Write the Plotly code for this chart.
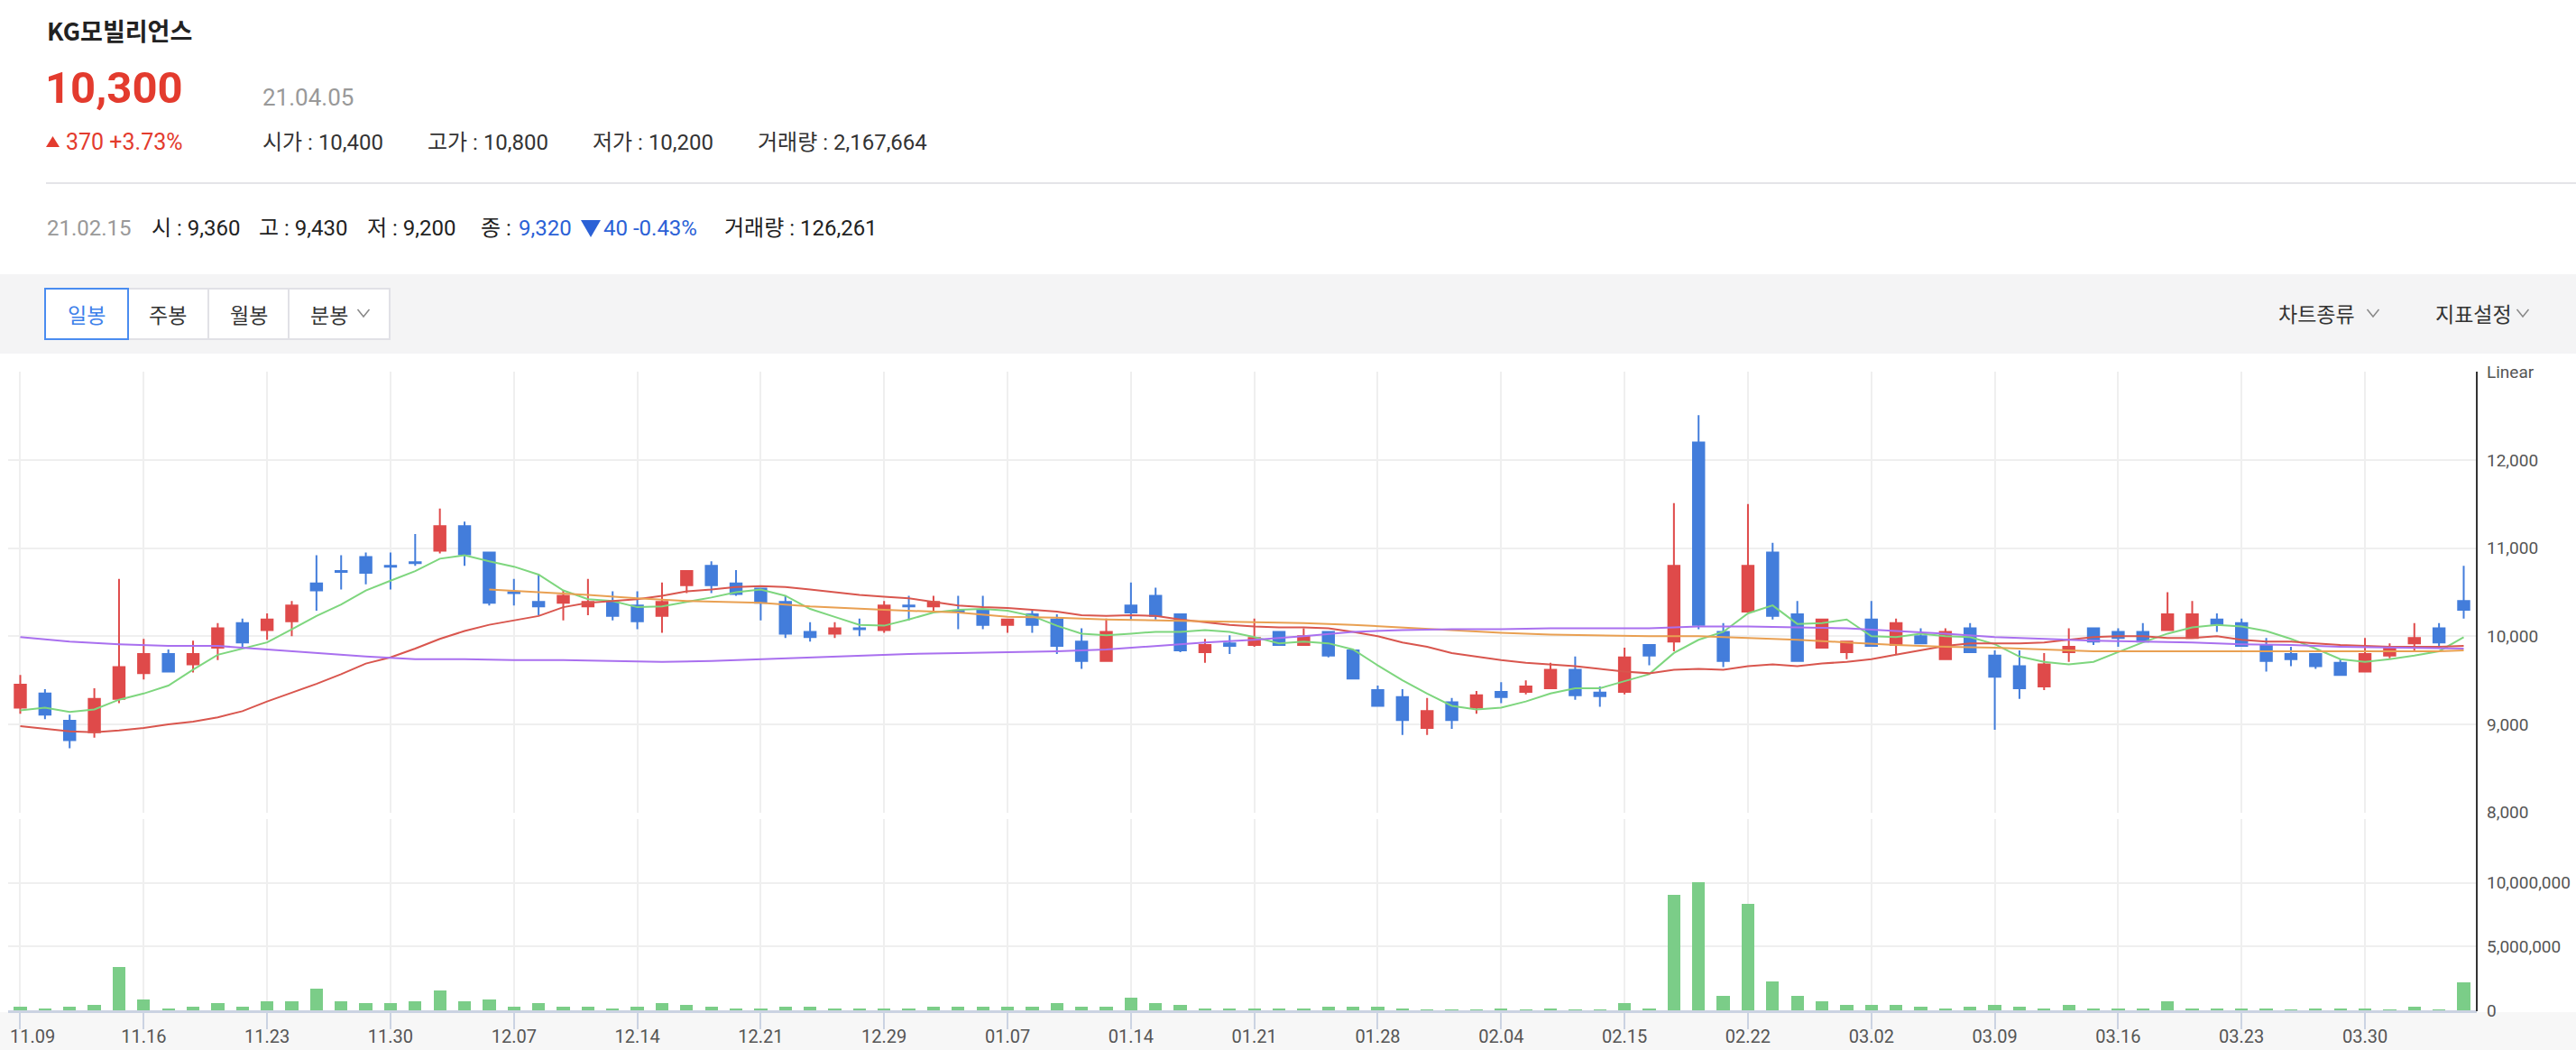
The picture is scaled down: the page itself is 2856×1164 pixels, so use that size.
import plotly.graph_objects as go

W, H = 2856, 1164

# ---------------- data ----------------
dates = [
    "11.09", "11.10", "11.11", "11.12", "11.13", "11.16", "11.17", "11.18", "11.19", "11.20",
    "11.23", "11.24", "11.25", "11.26", "11.27", "11.30", "12.01", "12.02", "12.03", "12.04",
    "12.07", "12.08", "12.09", "12.10", "12.11", "12.14", "12.15", "12.16", "12.17", "12.18",
    "12.21", "12.22", "12.23", "12.24", "12.28", "12.29", "12.30", "01.04", "01.05", "01.06",
    "01.07", "01.08", "01.11", "01.12", "01.13", "01.14", "01.15", "01.18", "01.19", "01.20",
    "01.21", "01.22", "01.25", "01.26", "01.27", "01.28", "01.29", "02.01", "02.02", "02.03",
    "02.04", "02.05", "02.08", "02.09", "02.10", "02.15", "02.16", "02.17", "02.18", "02.19",
    "02.22", "02.23", "02.24", "02.25", "02.26", "03.02", "03.03", "03.04", "03.05", "03.08",
    "03.09", "03.10", "03.11", "03.12", "03.15", "03.16", "03.17", "03.18", "03.19", "03.22",
    "03.23", "03.24", "03.25", "03.26", "03.29", "03.30", "03.31", "04.01", "04.02", "04.05",
]

tick_labels = ["11.09", "11.16", "11.23", "11.30", "12.07", "12.14", "12.21", "12.29", "01.07", "01.14",
               "01.21", "01.28", "02.04", "02.15", "02.22", "03.02", "03.09", "03.16", "03.23", "03.30"]

open_ = [9190, 9350, 9040, 8910, 9290, 9580, 9800, 9680, 9870, 10150,
         10070, 10170, 10600, 10740, 10900, 10800, 10840, 10970, 11250, 10950,
         10500, 10390, 10380, 10340, 10390, 10350, 10230, 10580, 10800, 10600,
         10540, 10390, 10050, 10030, 10090, 10070, 10350, 10340, 10290, 10290,
         10130, 10250, 10190, 9940, 9720, 10350, 10460, 10250, 9820, 9920,
         9900, 10050, 9900, 10050, 9840, 9390, 9310, 8960, 9250, 9190,
         9370, 9370, 9410, 9620, 9360, 9370, 9900, 9940, 12200, 10050,
         10280, 10950, 10250, 9870, 9820, 10190, 9900, 10000, 9740, 10090,
         9780, 9660, 9430, 9820, 10090, 10050, 10050, 10070, 9980, 10190,
         10150, 9900, 9800, 9800, 9700, 9600, 9780, 9920, 10090, 10400]
high = [9560, 9400, 9110, 9410, 10650, 9970, 9850, 9950, 10150, 10200,
        10260, 10400, 10920, 10920, 10950, 10950, 11160, 11450, 11300, 10950,
        10650, 10710, 10520, 10650, 10510, 10510, 10610, 10740, 10850, 10750,
        10540, 10460, 10160, 10160, 10200, 10400, 10460, 10460, 10460, 10460,
        10190, 10290, 10250, 10090, 10200, 10610, 10550, 10250, 9970, 10010,
        10200, 10050, 10090, 10050, 9840, 9440, 9400, 9300, 9300, 9380,
        9480, 9500, 9700, 9770, 9430, 9870, 9900, 11510, 12510, 10150,
        11500, 11060, 10400, 10190, 9940, 10400, 10200, 10090, 10090, 10150,
        9840, 9840, 9810, 10090, 10090, 10090, 10150, 10500, 10400, 10260,
        10200, 9980, 9880, 9800, 9740, 9980, 9920, 10150, 10150, 10800]
low = [9120, 9060, 8730, 8850, 9240, 9510, 9590, 9590, 9730, 9880,
       9960, 10000, 10290, 10530, 10590, 10530, 10800, 10940, 10800, 10350,
       10350, 10240, 10180, 10240, 10180, 10080, 10040, 10490, 10490, 10460,
       10180, 9980, 9940, 9980, 10000, 10040, 10180, 10290, 10080, 10080,
       10040, 10040, 9800, 9630, 9720, 10190, 10190, 9820, 9700, 9800,
       9880, 9890, 9900, 9760, 9520, 9210, 8880, 8880, 8950, 9120,
       9240, 9340, 9410, 9280, 9200, 9340, 9670, 9830, 10080, 9650,
       10280, 10190, 9720, 9870, 9740, 9890, 9800, 9920, 9740, 9820,
       8940, 9290, 9390, 9710, 9900, 9880, 9940, 10070, 9980, 10050,
       9890, 9600, 9660, 9630, 9560, 9600, 9750, 9840, 9880, 10200]
close = [9450, 9110, 8820, 9290, 9650, 9800, 9600, 9800, 10090, 9930,
         10190, 10350, 10520, 10730, 10720, 10790, 10830, 11250, 10930, 10380,
         10490, 10340, 10460, 10390, 10230, 10170, 10390, 10740, 10580, 10480,
         10380, 10030, 9990, 10090, 10080, 10350, 10340, 10390, 10280, 10130,
         10190, 10130, 9890, 9720, 10050, 10270, 10230, 9840, 9900, 9890,
         9980, 9900, 10000, 9780, 9520, 9210, 9050, 9150, 9050, 9330,
         9310, 9430, 9620, 9330, 9320, 9760, 9780, 10800, 10130, 9720,
         10800, 10230, 9720, 10190, 9940, 9890, 10150, 9920, 10050, 9820,
         9540, 9410, 9680, 9880, 9940, 9980, 9940, 10250, 10250, 10140,
         9890, 9720, 9740, 9660, 9560, 9800, 9880, 9980, 9930, 10300]

volume = [280000, 140000, 280000, 420000, 3400000, 850000, 140000, 280000, 570000, 280000,
          710000, 710000, 1700000, 710000, 570000, 570000, 710000, 1560000, 710000, 850000,
          280000, 570000, 280000, 280000, 140000, 280000, 570000, 420000, 280000, 140000,
          140000, 280000, 280000, 140000, 140000, 140000, 140000, 280000, 280000, 280000,
          280000, 280000, 570000, 280000, 280000, 990000, 570000, 420000, 140000, 140000,
          140000, 140000, 140000, 280000, 280000, 280000, 140000, 30000, 30000, 30000,
          140000, 30000, 140000, 30000, 40000, 570000, 140000, 9060000, 10050000, 1130000,
          8350000, 2270000, 1130000, 710000, 420000, 420000, 420000, 280000, 140000, 280000,
          420000, 280000, 140000, 420000, 140000, 140000, 140000, 710000, 140000, 140000,
          140000, 140000, 30000, 140000, 140000, 140000, 30000, 280000, 30000, 2167664]

# moving averages
ma5 = [9160, 9190, 9140, 9170, 9280, 9350, 9440, 9620, 9790, 9860,
       9930, 10080, 10230, 10360, 10520, 10630, 10740, 10880, 10920, 10850,
       10790, 10700, 10520, 10420, 10400, 10330, 10340, 10390, 10440, 10500,
       10530, 10460, 10310, 10220, 10130, 10120, 10190, 10270, 10300, 10310,
       10290, 10230, 10120, 10030, 10010, 10030, 10050, 10050, 10070, 10050,
       9990, 9920, 9940, 9920, 9850, 9670, 9500, 9350, 9210, 9170,
       9190, 9260, 9350, 9410, 9410, 9490, 9570, 9810, 9960, 10050,
       10260, 10350, 10140, 10150, 10190, 10000, 9990, 10030, 10000, 9990,
       9910, 9770, 9710, 9680, 9710, 9820, 9930, 10030, 10100, 10130,
       10110, 10060, 9970, 9860, 9740, 9710, 9740, 9780, 9830, 9990]

ma20 = [8980, 8950, 8920, 8910, 8930, 8960, 9000, 9030, 9080, 9150,
        9260, 9360, 9460, 9570, 9690, 9760, 9860, 9970, 10060, 10130,
        10180, 10230, 10330, 10380, 10400, 10420, 10460, 10510, 10530, 10560,
        10570, 10560, 10530, 10500, 10470, 10450, 10430, 10390, 10350, 10330,
        10320, 10300, 10280, 10240, 10230, 10240, 10230, 10190, 10160, 10130,
        10110, 10100, 10100, 10090, 10050, 10000, 9930, 9880, 9810, 9770,
        9730, 9700, 9680, 9660, 9630, 9600, 9580, 9620, 9630, 9620,
        9660, 9680, 9660, 9690, 9710, 9740, 9790, 9840, 9890, 9920,
        9920, 9920, 9930, 9960, 9990, 10000, 10000, 9980, 9980, 10000,
        9960, 9940, 9940, 9920, 9900, 9890, 9880, 9880, 9880, 9890]

ma60_idx = [19, 21, 23, 25, 27, 30, 32, 35, 38, 40, 42, 44, 46, 48, 49, 52, 54, 56, 58, 60,
            62, 64, 66, 68, 70, 72, 74, 76, 78, 80, 82, 84, 86, 88, 90, 92, 94, 96, 98, 99]
ma60 = [10530, 10500, 10470, 10430, 10400, 10380, 10340, 10300, 10270, 10220,
        10210, 10190, 10180, 10170, 10160, 10150, 10130, 10100, 10070, 10040,
        10020, 10010, 10000, 10000, 9980, 9960, 9930, 9900, 9880, 9870,
        9850, 9830, 9830, 9830, 9830, 9830, 9830, 9830, 9830, 9840]

ma120_idx = [0, 2, 4, 6, 8, 10, 12, 14, 16, 18, 20, 22, 24, 26, 28, 30, 32, 34, 36, 38,
             40, 42, 44, 46, 48, 50, 52, 54, 56, 58, 60, 62, 64, 66, 68, 70, 72, 74, 76, 78,
             80, 82, 84, 86, 88, 90, 92, 94, 96, 98, 99]
ma120 = [9990, 9940, 9910, 9890, 9890, 9850, 9810, 9770, 9740, 9740,
         9730, 9730, 9720, 9710, 9720, 9740, 9760, 9780, 9800, 9810,
         9820, 9830, 9850, 9890, 9930, 9960, 10000, 10050, 10070, 10080,
         10080, 10090, 10090, 10090, 10110, 10110, 10100, 10090, 10060, 10030,
         9990, 9970, 9950, 9940, 9930, 9910, 9900, 9880, 9870, 9860, 9860]

price_ticks = [8000, 9000, 10000, 11000, 12000, 13000]
price_tick_text = ["8,000", "9,000", "10,000", "11,000", "12,000", "Linear"]
vol_ticks = [0, 5000000, 10000000, 15000000]
vol_tick_text = ["0", "5,000,000", "10,000,000", ""]

# ---------------- style ----------------
RED = "#df4a4a"
BLUE = "#437ddb"
VOL_GREEN = "#7bcd88"
C_MA5 = "#7ed67e"
C_MA20 = "#d9564e"
C_MA60 = "#e9a052"
C_MA120 = "#a970ef"
GRID = "#efefef"
TXT_RED = "#e33b2e"
TXT_BLUE = "#2b61d6"
FONT_KR = "Noto Sans CJK KR"
FONT_NUM = "Roboto, Noto Sans CJK KR"


def px(x):
    return x / W


def py(y):
    return 1 - y / H


fig = go.Figure()

fig.add_trace(go.Candlestick(
    x=dates, open=open_, high=high, low=low, close=close,
    increasing=dict(line=dict(color=RED, width=2), fillcolor=RED),
    decreasing=dict(line=dict(color=BLUE, width=2), fillcolor=BLUE),
    whiskerwidth=0, xaxis="x", yaxis="y", showlegend=False, hoverinfo="skip",
))

for xs, vals, col in [
    (dates, ma5, C_MA5),
    (dates, ma20, C_MA20),
    ([dates[i] for i in ma60_idx], ma60, C_MA60),
    ([dates[i] for i in ma120_idx], ma120, C_MA120),
]:
    fig.add_trace(go.Scatter(
        x=xs, y=vals, mode="lines",
        line=dict(color=col, width=2), xaxis="x", yaxis="y",
        showlegend=False, hoverinfo="skip",
    ))

fig.add_trace(go.Bar(
    x=dates, y=volume, marker=dict(color=VOL_GREEN, line=dict(width=0)),
    width=0.52, xaxis="x2", yaxis="y2", showlegend=False, hoverinfo="skip",
))

x_dom = [px(9), px(2746)]
x_rng = [-0.493, 99.53]
tickfont = dict(family=FONT_NUM, size=19, color="#555555")
# the first date label is drawn separately (kept inside the chart, as in the original)
x_tick_text = [""] + tick_labels[1:]

fig.update_layout(
    width=W, height=H, margin=dict(l=0, r=0, t=0, b=0, pad=0, autoexpand=False),
    paper_bgcolor="white", plot_bgcolor="white",
    showlegend=False, boxgap=0.35, bargap=0,
    xaxis=dict(
        domain=x_dom, anchor="y", type="category", range=x_rng, automargin=False,
        tickmode="array", tickvals=tick_labels, showticklabels=False,
        showgrid=True, gridcolor=GRID, gridwidth=1.5, zeroline=False,
        showline=False, ticks="", rangeslider=dict(visible=False),
    ),
    yaxis=dict(
        domain=[py(900.7), py(412.3)], anchor="x", range=[8000, 13000], automargin=False,
        side="right", tickmode="array", tickvals=price_ticks, ticktext=price_tick_text,
        showgrid=True, gridcolor=GRID, gridwidth=1.5, zeroline=False, showline=False,
        ticks="", ticklabelstandoff=10, tickfont=tickfont,
    ),
    xaxis2=dict(
        domain=x_dom, anchor="y2", type="category", matches="x", range=x_rng, automargin=False,
        tickmode="array", tickvals=tick_labels, ticktext=x_tick_text,
        showgrid=True, gridcolor=GRID, gridwidth=1.5, zeroline=False,
        showline=True, linecolor="#cbd3e2", linewidth=3,
        ticks="outside", ticklen=18, tickwidth=2, tickcolor="#cbd3e2",
        ticklabelstandoff=-9,
        tickfont=dict(family=FONT_NUM, size=20, color="#555555"),
        rangeslider=dict(visible=False),
    ),
    yaxis2=dict(
        domain=[py(1120), py(908)], anchor="x2", range=[0, 15000000], automargin=False,
        side="right", tickmode="array", tickvals=vol_ticks, ticktext=vol_tick_text,
        showgrid=True, gridcolor=GRID, gridwidth=1.5, zeroline=False, showline=False,
        ticks="", ticklabelstandoff=10, tickfont=tickfont,
    ),
)

shapes = []
# bottom soft band
shapes.append(dict(type="rect", xref="paper", yref="paper", x0=0, x1=1, y0=0, y1=py(1122),
                   fillcolor="rgba(0,0,0,0.03)", line=dict(width=0), layer="below"))
# right axis line
shapes.append(dict(type="line", xref="paper", yref="paper", x0=px(2746), x1=px(2746),
                   y0=py(412), y1=py(1121), line=dict(color="#333333", width=2)))
# separator line in header
shapes.append(dict(type="line", xref="paper", yref="paper", x0=px(51), x1=1,
                   y0=py(203), y1=py(203), line=dict(color="#e4e4e8", width=2)))
# toolbar band
shapes.append(dict(type="rect", xref="paper", yref="paper", x0=0, x1=1, y0=py(392), y1=py(304),
                   fillcolor="#f4f4f5", line=dict(width=0)))
# toolbar buttons
for x0, x1 in [(142, 231), (231, 320), (320, 432)]:
    shapes.append(dict(type="rect", xref="paper", yref="paper", x0=px(x0), x1=px(x1),
                       y0=py(376), y1=py(320), fillcolor="white",
                       line=dict(color="#e1e1e6", width=2)))
shapes.append(dict(type="rect", xref="paper", yref="paper", x0=px(50), x1=px(142),
                   y0=py(376), y1=py(320), fillcolor="white",
                   line=dict(color="#4a8cf0", width=2)))


def chevron(cx, cy, hw=6.5, hh=4):
    return dict(type="path", xref="paper", yref="paper",
                path=f"M {px(cx-hw)} {py(cy-hh)} L {px(cx)} {py(cy+hh)} L {px(cx+hw)} {py(cy-hh)}",
                line=dict(color="#888888", width=1.5))


shapes += [chevron(403, 347), chevron(2631, 347), chevron(2797, 347)]


def tri(x0, x1, ybase, ytip, color):
    return dict(type="path", xref="paper", yref="paper",
                path=f"M {px(x0)} {py(ybase)} L {px(x1)} {py(ybase)} L {px((x0+x1)/2)} {py(ytip)} Z",
                fillcolor=color, line=dict(width=0))


shapes.append(tri(51, 66, 163, 151, TXT_RED))
shapes.append(tri(644, 666, 244, 263, TXT_BLUE))
fig.update_layout(shapes=shapes)

ann = []


def A(text, x, y, size, color, family=FONT_NUM, weight="normal", xanchor="left"):
    ann.append(dict(text=text, x=px(x), y=py(y), xref="paper", yref="paper",
                    xanchor=xanchor, yanchor="middle", showarrow=False,
                    font=dict(family=family, size=size, color=color, weight=weight)))


A("KG모빌리언스", 50, 33, 27, "#222222", family=FONT_KR, weight="bold")
A("10,300", 48, 97, 49, TXT_RED, weight="bold")
A("21.04.05", 289, 108, 26, "#999999")
A("370 +3.73%", 71, 158, 25, TXT_RED)
A("시가 : 10,400", 289, 158, 24, "#333333")
A("고가 : 10,800", 472, 158, 24, "#333333")
A("저가 : 10,200", 655, 158, 24, "#333333")
A("거래량 : 2,167,664", 838, 158, 24, "#333333")

A("21.02.15", 50, 253, 24, "#999999")
A("시 : 9,360", 166, 253, 24, "#222222")
A("고 : 9,430", 285, 253, 24, "#222222")
A("저 : 9,200", 405, 253, 24, "#222222")
A("종 :", 531, 253, 24, "#222222")
A("9,320", 573, 253, 24, TXT_BLUE)
A("40 -0.43%", 667, 253, 24, TXT_BLUE)
A("거래량 : 126,261", 801, 253, 24, "#222222")

A("일봉", 96, 348, 23, "#3d80ea", family=FONT_KR, xanchor="center")
A("주봉", 186, 348, 23, "#333333", family=FONT_KR, xanchor="center")
A("월봉", 276, 348, 23, "#333333", family=FONT_KR, xanchor="center")
A("분봉", 365, 348, 23, "#333333", family=FONT_KR, xanchor="center")
A("차트종류", 2568, 347, 23, "#333333", family=FONT_KR, xanchor="center")
A("지표설정", 2742, 347, 23, "#333333", family=FONT_KR, xanchor="center")

# first x tick label, clamped inside the left edge
A(tick_labels[0], 9, 1149, 20, "#555555")

fig.update_layout(annotations=ann)

fig.write_html("out.html", config={"displayModeBar": False},
               post_script="document.body.style.margin='0';")
